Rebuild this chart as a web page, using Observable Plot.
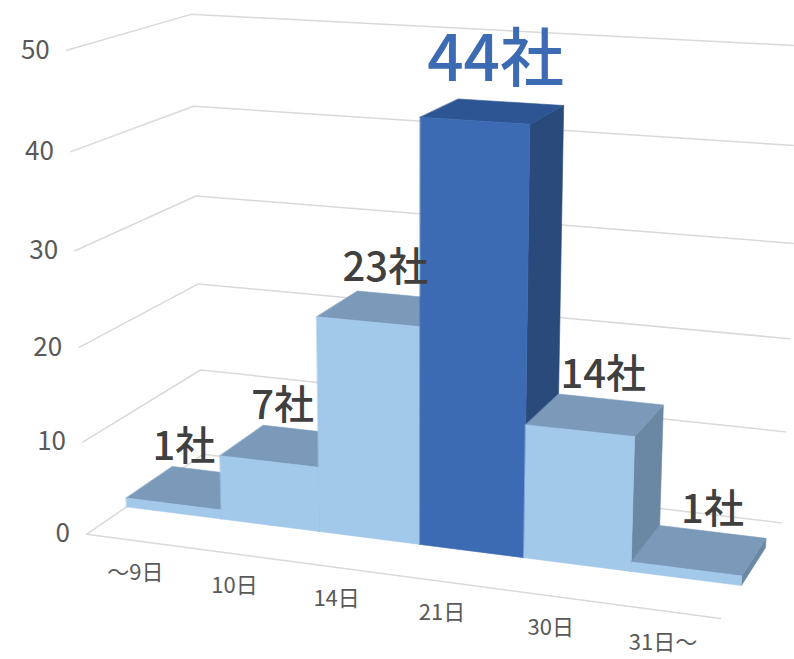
<!DOCTYPE html>
<html><head><meta charset="utf-8">
<script src="https://cdn.jsdelivr.net/npm/d3@7"></script>
<script src="https://cdn.jsdelivr.net/npm/@observablehq/plot@0.6"></script>
<style>html,body{margin:0;padding:0;background:#fff}</style>
</head><body><div id="chart"></div>
<script>
// ---- data ----
const categories = ["～9日", "10日", "14日", "21日", "30日", "31日～"];
const counts = [1, 7, 23, 44, 14, 1];
const valueLabels = ["1社", "7社", "23社", "44社", "14社", "1社"];
const highlighted = [false, false, false, true, false, false];
const yTicks = [0, 10, 20, 30, 40, 50];
const yMax = 50;

// ---- 3D view (camera calibration: world u,v,w -> page) ----
// u: across categories 0..1, v: value / yMax, w: depth 0 (front) .. 1 (back wall)
const viewCalibration = [
  [0, 0, 0, 87, 534], [0, 0.2, 0, 82, 442], [0, 0.4, 0, 78, 346], [0, 0.6, 0, 75, 249],
  [0, 0.8, 0, 70, 152], [0, 1, 0, 67, 50],
  [0, 1, 1, 190, 14], [0, 0.8, 1, 193, 106], [0, 0.6, 1, 195, 195], [0, 0.4, 1, 199, 283],
  [0, 0.2, 1, 200, 370],
  [1, 0, 1, 780, 522], [1, 0.2, 1, 785, 432], [1, 0.4, 1, 790, 338],
  [1, 0, 0, 720, 618]
];
const barDepth = [0.32, 0.72];
const labelSpread = {center: 440, factor: 1.05};

function solveDLT(pts) {
  const n = 11;
  const M = Array.from({length: n}, () => new Array(n + 1).fill(0));
  const add = (row, b) => {
    for (let i = 0; i < n; i++) {
      for (let j = 0; j < n; j++) M[i][j] += row[i] * row[j];
      M[i][n] += row[i] * b;
    }
  };
  for (const [X, Y, Z, x, y] of pts) {
    add([X, Y, Z, 1, 0, 0, 0, 0, -x * X, -x * Y, -x * Z], x);
    add([0, 0, 0, 0, X, Y, Z, 1, -y * X, -y * Y, -y * Z], y);
  }
  for (let c = 0; c < n; c++) {
    let p = c;
    for (let r = c + 1; r < n; r++) if (Math.abs(M[r][c]) > Math.abs(M[p][c])) p = r;
    [M[c], M[p]] = [M[p], M[c]];
    for (let r = 0; r < n; r++) {
      if (r === c) continue;
      const f = M[r][c] / M[c][c];
      for (let k = c; k <= n; k++) M[r][k] -= f * M[c][k];
    }
  }
  return M.map((row, i) => row[n] / row[i]);
}
const P = solveDLT(viewCalibration);
function project(u, v, w) {
  const d = P[8] * u + P[9] * v + P[10] * w + 1;
  return [(P[0] * u + P[1] * v + P[2] * w + P[3]) / d, (P[4] * u + P[5] * v + P[6] * w + P[7]) / d];
}

// ---- build geometry from data ----
const nCat = categories.length;
const palette = {
  normal: {front: "#a2c8ea", top: "#7b9aba", side: "#6a88a4"},
  accent: {front: "#3d6bb3", top: "#2e5593", side: "#2a4a7c"}
};
const faces = [];
counts.forEach((c, i) => {
  const u0 = i / nCat, u1 = (i + 1) / nCat, v = c / yMax;
  const [w0, w1] = barDepth;
  const pal = highlighted[i] ? palette.accent : palette.normal;
  const quads = {
    side: [[u1, 0, w0], [u1, 0, w1], [u1, v, w1], [u1, v, w0]],
    top: [[u0, v, w0], [u1, v, w0], [u1, v, w1], [u0, v, w1]],
    front: [[u0, 0, w0], [u1, 0, w0], [u1, v, w0], [u0, v, w0]]
  };
  for (const k of ["side", "top", "front"]) {
    for (const p of quads[k]) {
      const [x, y] = project(...p);
      faces.push({id: `${i}-${k}`, x, y, fill: pal[k]});
    }
  }
});

const grid = [];
yTicks.forEach(t => {
  for (const p of [[0, t / yMax, 0], [0, t / yMax, 1], [1, t / yMax, 1]]) {
    const [x, y] = project(...p);
    grid.push({id: "g" + t, x, y});
  }
});
for (const p of [[0, 0, 0], [1, 0, 0]]) {
  const [x, y] = project(...p);
  grid.push({id: "front", x, y});
}

const yTickText = yTicks.map(t => {
  const [x, y] = project(0, t / yMax, 0);
  return {x, y, text: String(t)};
});
const xTickText = categories.map((c, i) => {
  const [x, y] = project((i + 0.5) / nCat, 0, 0);
  return {x, y, text: c};
});
const dataText = counts.map((c, i) => {
  const [x, y] = project((i + 0.5) / nCat, c / yMax, 0.52);
  return {x: labelSpread.center + (x - labelSpread.center) * labelSpread.factor, y, text: valueLabels[i], accent: highlighted[i]};
});

const font = "'Noto Sans CJK JP', 'Noto Sans', sans-serif";
const chart = Plot.plot({
  width: 794,
  height: 659,
  margin: 0,
  x: {type: "linear", domain: [0, 794], range: [0, 794], axis: null},
  y: {type: "linear", domain: [0, 659], range: [0, 659], axis: null},
  style: {fontFamily: font, background: "#fff"},
  marks: [
    Plot.line(grid, {x: "x", y: "y", z: "id", stroke: "#d9d9d9", strokeWidth: 1.5}),
    Plot.line(faces, {x: "x", y: "y", z: "id", fill: "fill", stroke: "fill", strokeWidth: 0.6, curve: "linear-closed"}),
    Plot.text(yTickText, {x: "x", y: "y", text: "text", dx: -17, textAnchor: "end", fontSize: 26, fill: "#595959"}),
    Plot.text(xTickText, {x: "x", y: "y", text: "text", dy: 32, fontSize: 22, fill: "#595959"}),
    Plot.text(dataText.filter(d => !d.accent), {x: "x", y: "y", text: "text", dy: -40, fontSize: 40, fontWeight: 500, fill: "#404040"}),
    Plot.text(dataText.filter(d => d.accent), {x: "x", y: "y", text: "text", dy: -51, fontSize: 64, fontWeight: 500, fill: "#3d6bb3"})
  ]
});
document.getElementById("chart").appendChild(chart);
</script>
</body></html>
